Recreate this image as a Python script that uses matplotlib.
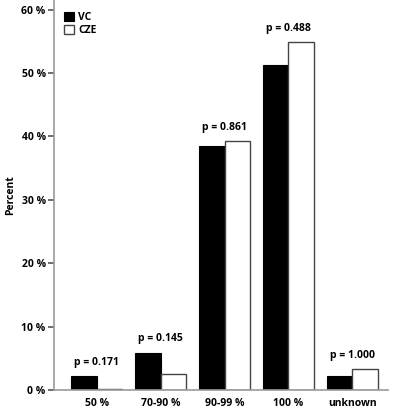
import matplotlib.pyplot as plt
import numpy as np

categories = ["50 %", "70-90 %", "90-99 %", "100 %", "unknown"]
vc = [2.2, 5.9, 38.5, 51.2, 2.2]
cze = [0.1, 2.5, 39.2, 54.8, 3.3]
pvals = ["p = 0.171", "p = 0.145", "p = 0.861", "p = 0.488", "p = 1.000"]
yticks = [0, 10, 20, 30, 40, 50, 60]

plt.rcParams['font.family'] = ['Open Sans', 'DejaVu Sans']

fig = plt.figure(figsize=(3.94, 4.08), dpi=100)
ax = fig.add_axes([0.137, 0.044, 0.848, 0.956])

x = np.arange(len(categories))
w = 0.4
ax.bar(x - w/2, vc, w, color="black", edgecolor="black", linewidth=0.8, label="VC")
ax.bar(x + w/2, cze, w, color="white", edgecolor="#444444", linewidth=1.0, label="CZE")

for i, p in enumerate(pvals):
    top = max(vc[i], cze[i])
    ax.text(x[i], top + 1.3, p, ha="center", va="bottom", fontsize=7.5, fontweight="bold")

ax.set_xlim(-0.67, 4.56)
ax.set_ylim(0, 61.5)
ax.set_xticks(x)
ax.set_xticklabels(categories, fontsize=7.5, fontweight="bold")
ax.set_yticks(yticks)
ax.set_yticklabels([f"{t} %" for t in yticks], fontsize=7.5, fontweight="bold")
ax.tick_params(axis="x", length=0, pad=6)
ax.tick_params(axis="y", length=4, width=1.2, color="#555555", pad=2)
ax.set_ylabel("Percent", fontsize=7.5, fontweight="bold", labelpad=4)

for s in ["top", "right"]:
    ax.spines[s].set_visible(False)
for s in ["left", "bottom"]:
    ax.spines[s].set_color("#999999")
    ax.spines[s].set_linewidth(1.2)

leg = ax.legend(loc="upper left", bbox_to_anchor=(0.0, 0.995), frameon=False, fontsize=7.5,
                handlelength=0.9, handleheight=0.9, handletextpad=0.4, labelspacing=0.15,
                borderaxespad=0.6)
for t in leg.get_texts():
    t.set_fontweight("bold")

fig.savefig("out.png", dpi=100)
